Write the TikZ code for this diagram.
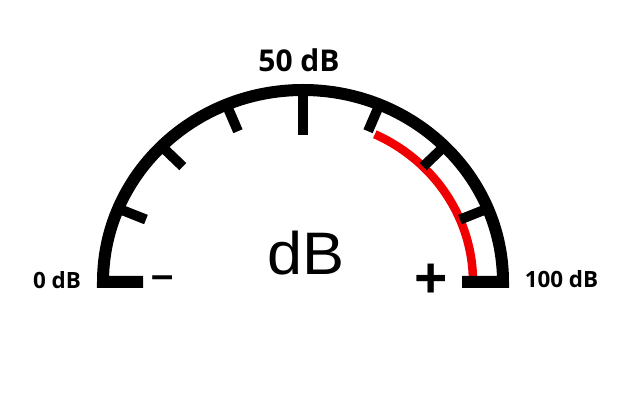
\documentclass[tikz,border=0pt]{standalone}
\usepackage{fontspec}
\setmainfont{Open Sans}
\newfontfamily\libsans{Liberation Sans}
\begin{document}
\begin{tikzpicture}[x=1pt,y=1pt,
  gaugeline/.style={line width=12pt, line join=miter, black},
  tickline/.style={line width=10pt, black},
  redline/.style={line width=8.5pt, color={rgb,255:red,240;green,0;blue,0}},
  lbl/.style={font=\bfseries\fontsize{22.4}{26}\selectfont, inner sep=0pt, anchor=base},
  ]
\useasboundingbox (0,0) rectangle (622,401);
\fill[white] (0,0) rectangle (622,401);
\coordinate (C) at (303,119);
% red zone
\draw[redline] (473,119) arc[start angle=0, end angle=65, x radius=170pt, y radius=163pt] coordinate (redend);
% gauge outline
\coordinate (L) at (143,119);
\coordinate (R) at (462,119);
\draw[gaugeline] (L) -- (103,119) arc[start angle=180, end angle=0, x radius=200pt, y radius=192pt] -- (R);
% ticks
\foreach \a in {22.5,45,67.5,112.5,135,157.5}{
  \draw[tickline] ({303+200*cos(\a)},{119+192*sin(\a)}) -- ({303+200*0.85*cos(\a)},{119+192*0.85*sin(\a)});
}
\draw[tickline] (303,311) -- (303,266);
% labels
\node[lbl, font=\bfseries\fontsize{30}{34}\selectfont] (top) at (299,329.3) {50 dB};
\node[lbl] (zero) at (57,112) {0 dB};
\node[lbl] (hundred) at (561.5,113) {100 dB};
\node[inner sep=0pt, anchor=base, font=\libsans\fontsize{60}{66}\selectfont, xscale=1.05] (db) at (306,126) {dB};
\node[inner sep=0pt, font=\libsans\bfseries\fontsize{40}{44}\selectfont] (minus) at (163,119.3) {–};
\node[inner sep=0pt, font=\libsans\bfseries\fontsize{57}{60}\selectfont] (plus) at (431,120.5) {+};
\end{tikzpicture}
\end{document}
